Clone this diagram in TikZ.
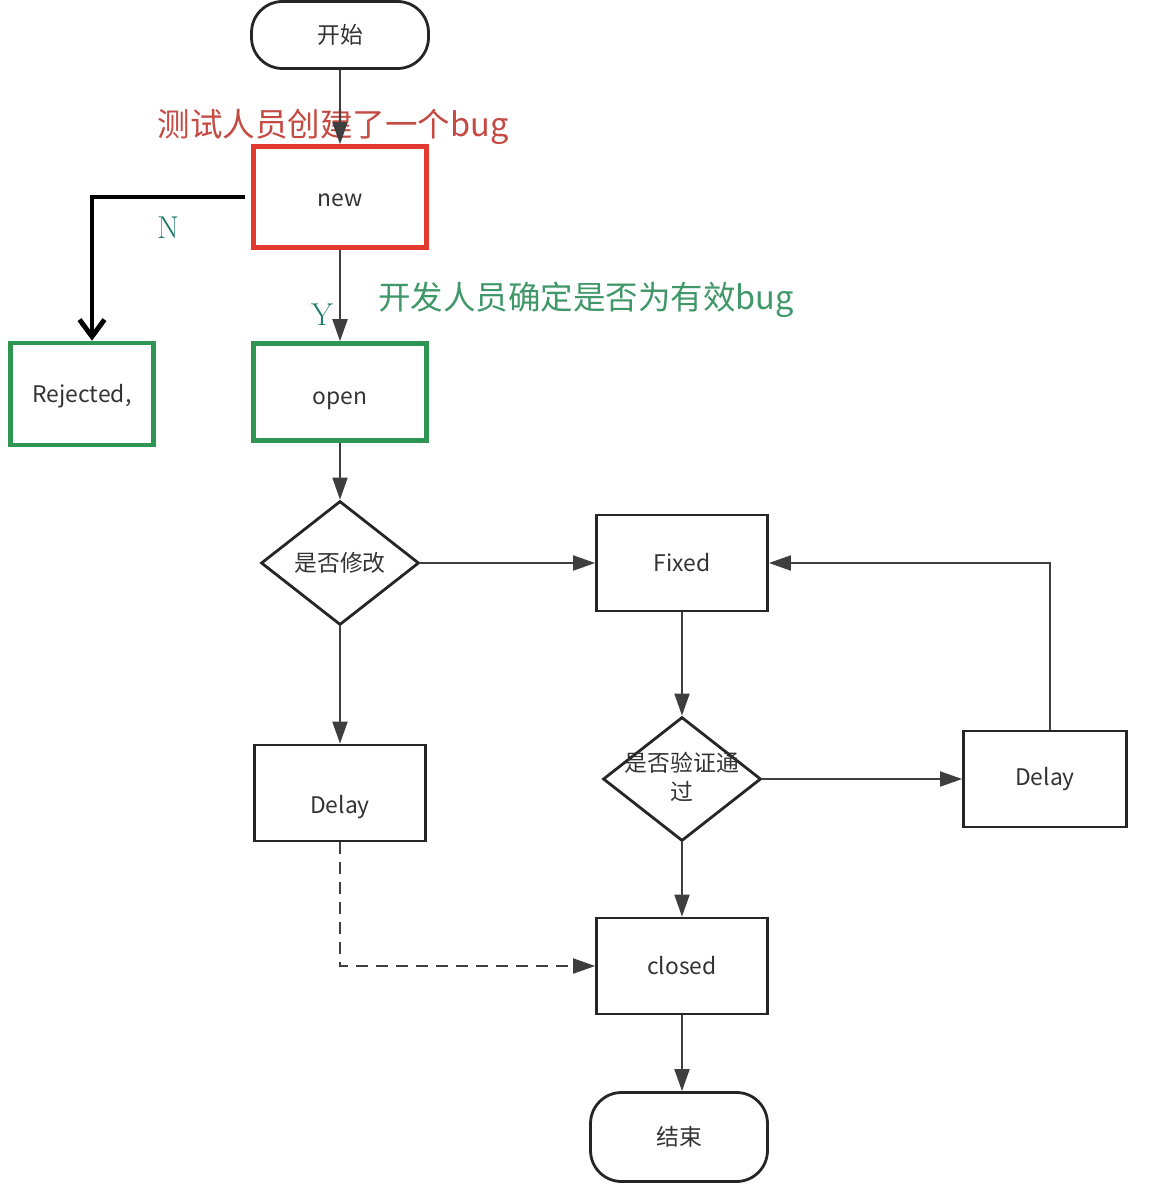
\documentclass[tikz,border=0pt]{standalone}
\usepackage{fontspec}
\newfontfamily\cjk{Noto Sans CJK SC}
\usetikzlibrary{shapes.geometric,arrows.meta}

\definecolor{boxred}{RGB}{226,58,48}
\definecolor{boxgreen}{RGB}{46,150,82}
\definecolor{notered}{RGB}{196,74,66}
\definecolor{notegreen}{RGB}{64,152,104}
\definecolor{yncolor}{RGB}{30,122,104}
\definecolor{linegray}{RGB}{62,62,62}

\tikzset{
  box/.style={draw=black!85, line width=1.6pt, minimum width=3.42cm, minimum height=1.92cm,
    font=\cjk\fontsize{13}{15}\selectfont, text=black!80},
  redbox/.style={box, draw=boxred, line width=2.6pt},
  greenbox/.style={box, draw=boxgreen, line width=2.6pt},
  terminal/.style={box, rounded corners=0.62cm, minimum width=3.54cm},
  decision/.style={draw=black!85, line width=1.6pt, diamond, inner sep=0pt,
    minimum width=3.16cm, minimum height=2.48cm},
  dtext/.style={font=\cjk\fontsize{13}{15}\selectfont, text=black!80, align=center},
  note/.style={font=\cjk\fontsize{18.5}{20}\selectfont},
  yn/.style={font=\fontsize{18}{20}\selectfont, text=yncolor},
  flow/.style={draw=linegray, line width=1.1pt, -{Triangle[length=0.44cm,width=0.3cm]}}
}

\begin{document}
\begin{tikzpicture}[x=0.02cm, y=-0.02cm]
    \useasboundingbox (0,0) rectangle (1150,1193);

    % left column
    \node[terminal, minimum height=1.34cm] (start) at (340,35) {开始};
    \node[note, text=notered] (testnote) at (333,127) {测试人员创建了一个bug};
    \node[redbox, minimum width=3.46cm, minimum height=2.02cm, text height=0.4cm] (new) at (340,197) {new};
    \node[greenbox, minimum width=2.86cm, minimum height=2.04cm, text height=0.45cm] (rejected) at (82,394) {Rejected,};
    \node[greenbox, minimum width=3.46cm, minimum height=1.94cm, text height=0.6cm] (open) at (340,392) {open};
    \node[note, text=notegreen] (devnote) at (586,300) {开发人员确定是否为有效bug};
    \node[yn] (nlab) at (168,228) {N};
    \node[yn] (ylab) at (322,315) {Y};

    \node[decision] (modify) at (340,563) {};
    \node[dtext] (modifytxt) at (modify) {是否修改};
    \node[box, text height=0.93cm] (delayleft) at (340,793) {Delay};

    % right column
    \node[box] (fixed) at (682,563) {Fixed};
    \node[decision] (verify) at (682,779) {};
    \node[dtext] (verifytxt) at (682,777) {是否验证通\\[1pt]过};
    \node[box, minimum width=3.26cm] (delayright) at (1045,779) {Delay};
    \node[box] (closed) at (682,966) {closed};
    \node[terminal, minimum height=1.78cm] (finish) at (679,1137) {结束};

    \draw[flow] (start) -- (new);
    \draw[line width=2.8pt, -{Straight Barb[length=0.34cm,width=0.5cm]}]
        ([xshift=-0.12cm]new.west) -| ([xshift=0.2cm]rejected.north);
    \draw[flow] (new) -- (open);
    \draw[flow] (open) -- (modify);
    \draw[flow] (modify) -- (fixed);
    \draw[flow] (modify) -- (delayleft);
    \draw[flow] (fixed) -- (verify);
    \draw[flow] (verify) -- (delayright);
    \draw[flow] ([xshift=0.1cm]delayright.north) |- (fixed.east);
    \draw[flow] (verify) -- (closed);
    \draw[flow, dash pattern=on 0.24cm off 0.16cm] (delayleft.south) |- (closed.west);
    \draw[flow] (closed.south) -- (closed.south |- finish.north);
\end{tikzpicture}
\end{document}
